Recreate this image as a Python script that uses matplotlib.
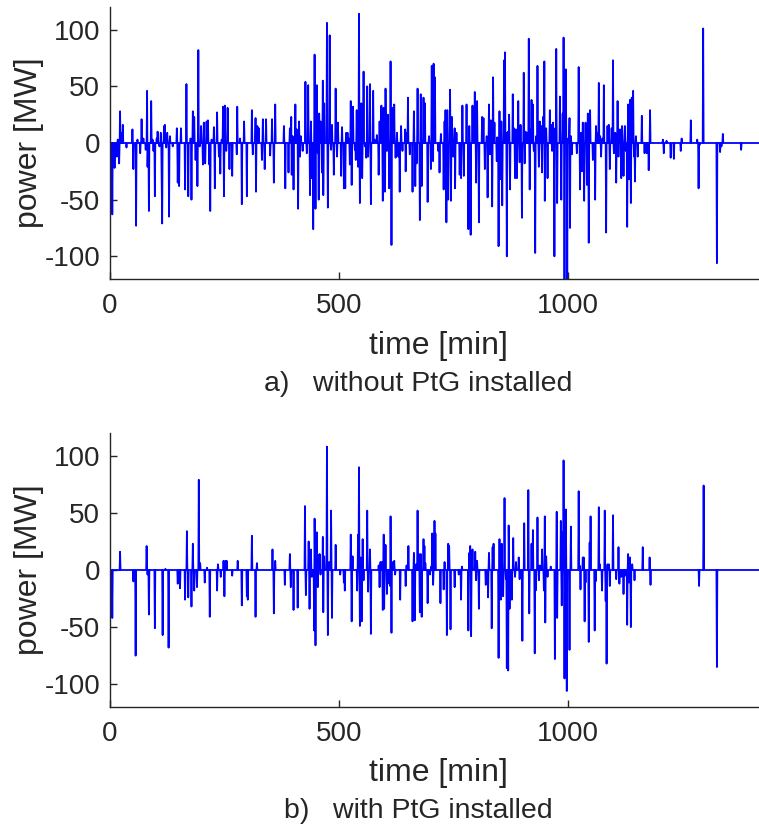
import matplotlib

matplotlib.use("Agg")

import matplotlib.pyplot as plt
import numpy as np

# power exchange traces: (minute, MW) for every non-idle minute
trace_without_ptg = [
    (0, 0), (5, -63), (10, -22), (15, -12), (17, 3), (20, -18), (22, 28), (26, 9), (28, 16), (31, 0),
    (36, -4), (40, 0), (49, 12), (51, -23), (57, -73), (60, 3), (66, -9), (69, 21), (73, 4), (78, -6),
    (81, 46), (82, -21), (85, -60), (90, 37), (93, 3), (95, -7), (98, -47), (102, 4), (104, 10), (108, -3),
    (111, 9), (113, -32), (114, -71), (118, 15), (120, 16), (123, -4), (125, 9), (129, -65), (131, 6),
    (137, -3), (141, 0), (146, 13), (148, -35), (151, -38), (155, 13), (158, 0), (164, -41), (167, 52),
    (171, -47), (176, 4), (178, -50), (181, 28), (184, 23), (187, -15), (191, -38), (193, 82), (196, -3),
    (199, 15), (203, -19), (205, 18), (208, -18), (211, 19), (214, 20), (217, -19), (219, -60), (222, 3),
    (227, 14), (229, -40), (234, 27), (238, -12), (241, -27), (244, 3), (247, 32), (249, -47), (251, 33),
    (254, -7), (257, 31), (261, -23), (264, 0), (267, -29),
    (277, -10), (278, 32), (284, 4), (288, -54), (293, 19), (299, -47), (303, 0), (310, 29), (312, -10),
    (318, 22), (319, -43), (322, 15), (325, 13), (328, 0), (332, -15), (334, 21), (338, -23), (341, 21),
    (344, 0), (350, -11), (354, 21), (358, -35), (361, 34), (364, 0), (371, 0), (380, 15), (383, -40),
    (388, 0), (390, -26), (393, 13), (396, 23), (397, -28), (399, 6), (401, -41), (405, 34), (408, 12),
    (411, -58), (413, 19), (415, -12), (417, 6), (421, -7), (424, 0), (427, 54), (430, -9), (433, 51),
    (437, -46), (439, 19), (441, -31), (444, -76), (447, 78), (449, -58), (452, 51), (454, -9), (456, -50),
    (457, 26), (460, 19), (463, -26), (465, 55), (466, -46), (468, 35), (471, 0), (474, 106), (476, -57),
    (480, 95), (483, -6), (485, 16), (489, -28), (493, 48), (496, -12), (498, 18), (501, 0), (505, -29),
    (507, 14), (511, -40), (514, -40), (516, 9), (519, 9), (522, 4), (524, -19), (526, 37), (528, -37),
    (531, 32), (535, -6), (537, -15), (539, 29), (542, -21), (544, 114), (546, -53),
    (549, 35), (551, -31), (554, 63), (557, -3), (560, -13), (562, 50), (564, -12), (568, 52), (570, -54),
    (575, 46), (578, 3), (583, 7), (587, -28), (589, 19), (593, 33), (596, -51), (598, 31), (601, -43),
    (602, 48), (605, -7), (607, 25), (610, -40), (613, 72), (615, -90), (618, 31), (621, 34), (624, -13),
    (627, 9), (630, -12), (633, -43), (636, 15), (639, -7), (642, 0), (645, 12), (646, -25), (649, 9),
    (651, 40), (655, -10), (658, 0), (661, -43), (664, 28), (667, -38), (670, -18), (672, 48), (674, 0),
    (677, -68), (679, 43), (681, -38), (685, 40), (688, 35), (690, 0), (694, -52), (697, 6), (699, 0),
    (701, -23), (703, 68), (706, -16), (707, 70), (710, 58), (713, 0), (717, -7), (720, -26), (723, 8),
    (726, 0), (729, -41), (731, 19), (733, 29), (735, -70), (737, 29), (739, -50), (743, 47), (745, -51),
    (747, 23), (750, -12), (753, 13), (754, -40), (757, 9), (761, 0), (764, -28), (767, -31), (770, 33),
    (773, -29), (777, 0), (779, 34), (783, -76), (785, 15), (788, -81), (792, 33), (795, 0), (797, 45),
    (800, -35), (802, 37), (806, -70), (809, 0), (813, 23), (816, 22), (819, -23),
    (823, 6), (825, -48), (828, 34), (830, -10), (832, 20), (835, -56), (837, 58), (840, 18), (842, 0),
    (845, -16), (846, 5), (849, -91), (851, 28), (853, -32), (855, 19), (857, -55), (859, 1), (861, 73),
    (863, 80), (865, 9), (867, -100), (870, 10), (872, 25), (874, -41), (877, 0), (880, 43), (883, 13),
    (885, -31), (887, 12), (889, -31), (892, 37), (895, -17), (897, 16), (900, -66), (904, 62), (906, -18),
    (908, 10), (911, 9), (915, 92), (917, -41), (919, 12), (921, 38), (924, 34), (926, -7), (929, -97),
    (931, 6), (934, 68), (937, -21), (939, 19), (942, 15), (944, -26), (946, 23), (949, 72), (950, -51),
    (953, 13), (956, -31), (958, 0), (961, 29), (964, 16), (966, -7), (968, 18), (971, -100), (973, 13),
    (975, 83), (977, -53), (980, 0), (983, 41), (986, -50), (989, 26), (991, 93), (993, -125), (996, 65),
    (999, -125), (1001, 4), (1004, 22), (1005, -75), (1007, 6), (1009, -10), (1012, 0), (1020, -9),
    (1022, 0), (1024, 67), (1027, -41), (1029, 9), (1031, -25), (1033, 18), (1036, -51), (1039, 18),
    (1042, -37), (1044, 26), (1046, -88), (1049, 29), (1051, 0), (1055, -15), (1058, 0), (1060, -50),
    (1062, 15), (1065, 9), (1068, 53), (1071, 6), (1073, -12), (1076, 4), (1079, 51), (1082, 0),
    (1084, -79), (1087, 15), (1090, 16), (1092, -23),
    (1096, 13), (1099, 73), (1101, -9), (1104, 9), (1106, -35), (1109, 37), (1111, -12), (1114, 12),
    (1117, -31), (1119, 15), (1122, -29), (1125, 15), (1127, -7), (1130, -74), (1132, 34), (1134, -32),
    (1136, 38), (1138, -53), (1140, 40), (1143, 46), (1145, -12), (1147, -34), (1149, 6), (1151, 0),
    (1153, -12), (1155, 0), (1159, 0), (1162, 24), (1164, 0), (1168, -9), (1170, 0), (1173, -9),
    (1176, 0), (1177, -24), (1180, 29), (1182, 0), (1205, 0), (1208, 3), (1210, -9), (1213, 0),
    (1216, 2), (1221, 0), (1223, 0), (1225, -13), (1228, 0), (1230, 0), (1232, -14), (1235, 0),
    (1245, 0), (1247, -7), (1249, 4), (1251, 0), (1267, 0), (1269, 20), (1272, 0), (1280, 0),
    (1283, 3), (1286, -40), (1288, -2), (1291, 0), (1294, 0), (1296, 101), (1298, 0), (1323, 0),
    (1326, -106), (1329, 0), (1333, -8), (1336, -3), (1339, 8), (1341, 0), (1377, 0), (1379, -6),
    (1381, 0), (1420, 0),
]

trace_with_ptg = [
    (0, 0), (4, 0), (5, -42), (7, 0), (20, 0), (22, 16), (24, 0), (50, 0), (51, -10), (53, 0), (56, -75),
    (58, 0), (79, 0), (80, 21), (82, -4), (85, -39), (87, 0), (97, 0), (98, -51), (101, 0), (113, 0),
    (115, -57), (117, 0), (121, 1), (125, 0), (127, 0), (128, -68), (130, 0), (146, 0), (148, -12),
    (150, 0), (153, -16), (155, 0), (162, 0), (164, -26), (168, 34), (171, -24), (175, 0), (177, 0),
    (178, -32), (181, 23), (184, -18), (186, 0), (189, 0), (190, -15), (194, 79), (197, 6), (199, 0),
    (205, 0), (207, -11), (209, 0), (212, 2), (215, 0), (216, 0), (218, -41), (221, 0), (232, 0),
    (234, -18), (236, 5), (238, 0), (242, -6), (245, 0), (248, 8), (250, -23), (252, 8), (255, 8),
    (257, 0), (266, 0), (267, -5), (270, 0), (278, 0), (279, 8), (282, 0), (286, 0), (288, -31), (291, 0),
    (297, 0), (299, -23), (301, -26), (304, 0), (308, 0), (310, 30), (312, 0), (317, 0), (318, -41),
    (321, 6), (324, 0), (354, 0), (355, 18), (358, -38), (361, 8), (364, 0), (381, 0), (382, -13),
    (385, 0), (392, 0), (393, 14), (395, -15), (398, 0), (400, 0), (401, -35), (404, 0), (409, 0),
    (410, -33), (413, 0), (425, 0), (426, 56), (428, -22), (431, 0), (434, 25), (436, -34), (439, 18),
    (441, -6), (444, 0), (446, -53), (447, 45), (449, -66), (452, 33), (454, -15), (456, 13), (458, 14),
    (460, -4), (463, 0), (465, 29), (466, -37), (468, 12), (471, 0), (474, 108), (476, -57), (479, 7),
    (481, 0), (483, 52), (485, -42), (487, 0), (492, 0), (493, 22), (495, 0), (503, -4), (506, 0),
    (509, 0), (511, -11), (513, -18), (515, 0), (524, 0), (526, 31), (528, -45), (530, 12), (533, 0),
    (539, 0), (540, -18), (542, 31), (544, 90), (546, -49), (548, 11), (550, -45), (552, 27), (554, -9),
    (560, 0), (562, 52), (564, -19), (568, 18), (570, -56), (573, 0), (586, 0), (587, 4), (589, -15),
    (591, 7), (594, 7), (596, -35), (598, 31), (599, -34), (602, 22), (605, -21), (607, 0), (610, -12),
    (612, -14), (613, 47), (615, -55), (618, 7), (621, 8), (623, -4), (625, 0), (631, 0), (634, -26),
    (636, 0), (645, 0), (646, -14), (648, 4), (652, 21), (654, 0), (660, 0), (661, -45), (664, 15),
    (666, -44), (669, 5), (672, 52), (675, 14), (677, -37), (679, 14), (681, -41), (684, 0), (685, 27),
    (687, 21), (689, 6), (692, 0), (694, -29), (696, 0), (699, -4), (702, 3), (704, 32), (706, -13),
    (709, 43), (711, 32), (713, 0), (720, 0), (722, -29), (724, 0), (728, 0), (729, -17), (731, 7),
    (734, 0), (735, 0), (736, -57), (739, 23), (741, 21), (744, -52), (747, 0), (752, 0), (753, -15),
    (755, 0), (760, 0), (762, -4), (765, 0), (767, -26), (769, 3), (772, 0), (781, 0), (783, -53),
    (785, 15), (787, 21), (789, -58), (792, 18), (794, 0), (796, 0), (798, 16), (800, -9), (802, 8),
    (806, -34), (808, 0), (819, 0), (821, -13), (824, 0), (826, -24), (828, 15), (831, 0), (832, 0),
    (834, -51), (836, 20), (838, 23), (840, 0), (847, 0), (849, -77), (851, 27), (854, -26), (856, 23),
    (859, -23), (860, 0), (862, 63), (865, -8), (867, -86), (870, -88), (871, 39), (873, -34), (876, 0),
    (878, -26), (881, 28), (883, 0), (885, -6), (887, 7), (889, 0), (893, 11), (895, -8), (897, 0),
    (899, 0), (901, -62), (903, 0), (905, 41), (907, 0), (912, 0), (914, 70), (916, -38), (919, 0),
    (921, 23), (924, 35), (926, 0), (928, -73), (930, -18), (932, 0), (934, 46), (937, -9), (939, 4),
    (941, 0), (944, 18), (946, 0), (948, -18), (950, 47), (951, -46), (953, 12), (956, -6), (958, 0),
    (963, 3), (966, 0), (970, 0), (972, -78), (974, -15), (976, 51), (977, -42), (980, 0), (982, 0),
    (985, 43), (987, -31), (989, 33), (991, 96), (993, -95), (996, 53), (998, -106), (1001, 0),
    (1004, -70), (1007, 38), (1009, 0), (1021, 0), (1024, 69), (1026, 4), (1028, -17), (1031, 0),
    (1033, 11), (1035, 11), (1037, -45), (1039, -11), (1042, 0), (1044, 0), (1046, -63), (1048, 24),
    (1050, 47), (1053, 0), (1057, 0), (1059, -53), (1061, -10), (1063, 0), (1066, 0), (1068, 55),
    (1070, 5), (1072, 0), (1074, 0), (1075, -18), (1078, 0), (1081, 52), (1083, -27), (1085, -82),
    (1087, 5), (1090, 5), (1092, -14), (1094, 0), (1098, 0), (1099, 48), (1101, 0), (1104, 0),
    (1106, -8), (1109, 0), (1111, 20), (1113, -12), (1115, 0), (1117, -6), (1120, 0), (1122, -21),
    (1125, -5), (1127, 0), (1130, -48), (1132, 14), (1134, -11), (1136, 11), (1138, -50), (1141, 5),
    (1143, 0), (1146, -9), (1148, 0), (1162, 0), (1164, 20), (1166, 0), (1178, 0), (1179, 11),
    (1181, -13), (1183, 0), (1285, 0), (1287, -14), (1289, 0), (1295, 0), (1297, 74), (1300, 0),
    (1324, 0), (1326, -85), (1329, 0), (1420, 0),
]

day_minutes = 1420
x_ticks = [0, 500, 1000]
y_ticks = [-100, -50, 0, 50, 100]
captions = ["a)   without PtG installed", "b)   with PtG installed"]

TEXT = "#262626"
plt.rcParams["font.family"] = ["Liberation Sans", "DejaVu Sans"]
plt.rcParams["axes.unicode_minus"] = False


def minute_series(trace):
    # idle minutes sit at 0 MW, each listed minute carries its reading
    series = np.zeros(day_minutes + 1)
    for minute, mw in trace:
        series[minute] = mw
    return np.arange(day_minutes + 1), series


fig = plt.figure(figsize=(7.59, 8.32), dpi=100)
W, H = 759, 832
ax_a = fig.add_axes([110 / W, 1 - 279 / H, 649 / W, 272 / H])
ax_b = fig.add_axes([110 / W, 1 - 707 / H, 649 / W, 274 / H])

for ax, trace, cap, cap_y, lab_y in [
    (ax_a, trace_without_ptg, captions[0], 384, 346),
    (ax_b, trace_with_ptg, captions[1], 811, 773),
]:
    t, p = minute_series(trace)
    ax.plot(t, p, color="#0000ff", lw=1.3)
    ax.set_xlim(0, 1418)
    ax.set_ylim(-120, 120)
    ax.set_xticks(x_ticks)
    ax.set_yticks(y_ticks)
    ax.tick_params(direction="in", length=5, width=1, colors=TEXT, labelsize=20, pad=7)
    ax.tick_params(axis="x", pad=10)
    for side in ("top", "right"):
        ax.spines[side].set_visible(False)
    for side in ("left", "bottom"):
        ax.spines[side].set_color(TEXT)
        ax.spines[side].set_linewidth(1.0)
    ax.set_ylabel("power [MW]", fontsize=23, color=TEXT, va="center")
    ax.yaxis.set_label_coords(-81 / 649, 0.5)
    fig.text(438 / W, 1 - lab_y / H, "time [min]", fontsize=23, color=TEXT, ha="center", va="center")
    fig.text(418 / W, 1 - cap_y / H, cap, fontsize=20.5, color=TEXT, ha="center", va="center")

fig.savefig("out.png", dpi=100, facecolor="white")
